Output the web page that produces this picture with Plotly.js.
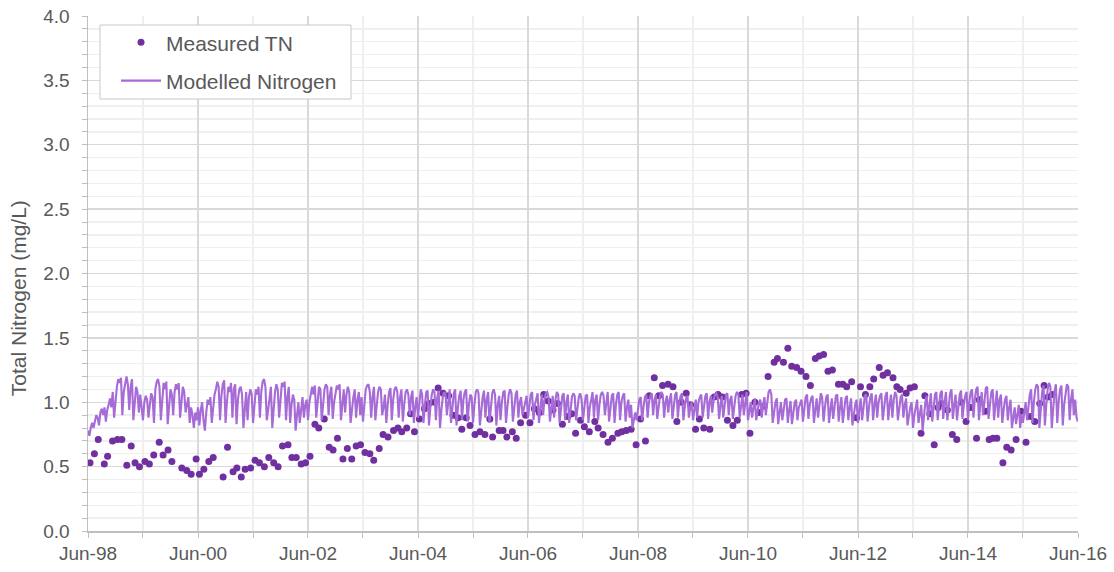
<!DOCTYPE html>
<html>
<head>
<meta charset="utf-8">
<script src="https://cdn.plot.ly/plotly-3.0.1.min.js"></script>
<style>
  html, body { margin: 0; padding: 0; background: #ffffff; }
  #chart { width: 1114px; height: 572px; }
</style>
</head>
<body>
<div id="chart"></div>
<script>
// ---- Measured TN: sample dates (decimal years) and values (mg/L) ----
const measuredYear = [
  1998.45,1998.53,1998.60,1998.71,1998.77,1998.86,1998.95,1999.03,1999.12,1999.20,
  1999.27,1999.35,1999.45,1999.53,1999.61,1999.71,1999.78,1999.87,1999.94,2000.12,
  2000.21,2000.29,2000.38,2000.44,2000.52,2000.61,2000.69,2000.87,2000.95,2001.05,
  2001.12,2001.20,2001.27,2001.37,2001.45,2001.53,2001.62,2001.70,2001.79,2001.87,
  2001.95,2002.05,2002.12,2002.20,2002.29,2002.37,2002.45,2002.54,2002.61,2002.71,
  2002.80,2002.87,2002.95,2003.05,2003.13,2003.21,2003.29,2003.37,2003.45,2003.54,
  2003.61,2003.71,2003.78,2003.87,2003.97,2004.05,2004.12,2004.21,2004.28,2004.35,
  2004.44,2004.53,2004.61,2004.71,2004.78,2004.87,2004.97,2005.05,2005.14,2005.21,
  2005.29,2005.36,2005.45,2005.54,2005.63,2005.72,2005.77,2005.89,2005.96,2006.03,
  2006.13,2006.20,2006.28,2006.37,2006.45,2006.53,2006.62,2006.70,2006.78,2006.87,
  2006.95,2007.04,2007.14,2007.21,2007.28,2007.37,2007.44,2007.53,2007.63,2007.69,
  2007.78,2007.87,2007.95,2008.05,2008.12,2008.20,2008.29,2008.38,2008.46,2008.55,
  2008.62,2008.71,2008.79,2008.86,2008.96,2009.05,2009.12,2009.20,2009.29,2009.37,
  2009.46,2009.53,2009.61,2009.72,2009.80,2009.87,2009.95,2010.04,2010.14,2010.22,
  2010.30,2010.38,2010.45,2010.54,2010.61,2010.71,2010.78,2010.89,2010.95,2011.06,
  2011.14,2011.21,2011.30,2011.38,2011.47,2011.55,2011.64,2011.71,2011.79,2011.87,
  2011.95,2012.06,2012.14,2012.21,2012.30,2012.39,2012.46,2012.55,2012.63,2012.70,
  2012.80,2012.87,2012.95,2013.05,2013.12,2013.18,2013.29,2013.36,2013.44,2013.56,
  2013.63,2013.72,2013.80,2013.87,2013.93,2014.04,2014.13,2014.21,2014.29,2014.38,
  2014.46,2014.57,2014.62,2014.73,2014.80,2014.87,2014.94,2015.05,2015.12,2015.20,
  2015.29,2015.38,2015.47,2015.55,2015.63,2015.72,2015.80,2015.87,2015.95
];
const measuredTN = [
  0.53,0.60,0.71,0.52,0.58,0.70,0.71,0.71,0.51,0.66,
  0.53,0.50,0.54,0.52,0.59,0.69,0.59,0.63,0.54,0.49,
  0.47,0.44,0.56,0.44,0.48,0.54,0.57,0.42,0.65,0.46,
  0.49,0.42,0.48,0.49,0.55,0.53,0.50,0.57,0.53,0.50,
  0.66,0.67,0.57,0.57,0.52,0.53,0.58,0.83,0.80,0.87,
  0.65,0.63,0.72,0.56,0.64,0.56,0.66,0.67,0.61,0.60,
  0.55,0.64,0.75,0.73,0.78,0.80,0.77,0.80,0.91,0.77,
  0.87,0.95,0.99,1.00,1.11,1.07,1.05,0.90,0.88,0.79,
  0.88,0.82,0.75,0.77,0.75,0.87,0.73,0.78,0.78,0.73,
  0.77,0.72,0.84,0.90,0.84,0.95,0.92,1.06,1.01,0.94,
  0.99,0.83,0.89,0.91,0.76,0.86,0.81,0.77,0.85,0.80,
  0.75,0.69,0.72,0.76,0.77,0.78,0.79,0.67,0.87,0.70,
  1.05,1.19,1.05,1.13,1.14,1.12,0.85,1.00,1.07,0.98,
  0.79,0.87,0.80,0.79,1.04,1.06,1.04,0.86,0.82,0.86,
  1.06,1.07,0.76,1.00,0.92,0.97,1.20,1.31,1.34,1.31,
  1.42,1.28,1.27,1.24,1.20,1.13,1.34,1.36,1.37,1.24,
  1.25,1.14,1.14,1.12,1.16,0.88,1.12,1.06,1.12,1.18,
  1.27,1.21,1.23,1.19,1.12,1.10,1.07,1.11,1.12,0.76,
  1.05,0.91,0.67,0.96,0.99,0.94,0.75,0.71,1.00,0.85,
  0.96,0.72,1.02,0.93,0.71,0.72,0.72,0.53,0.65,0.63,
  0.71,0.93,0.69,0.89,0.85,0.99,1.13,1.04,1.06
];

// ---- Modelled Nitrogen: series start, sampling step (years) and values (mg/L) ----
const modelStartYear = 1998.414;
const modelStepYears = 0.025;
const modelledN = [
  // Jun-98 .. Jun-99
  0.78,0.74,0.80,0.84,0.80, 0.86,0.90,0.88,0.82,0.92, 0.95,0.90,0.96,0.85,0.94,0.98, 1.03,0.96,1.08,0.88,
  1.04,1.12,1.18,1.15,1.19, 0.90,1.08,1.16,1.20,1.14, 0.94,1.12,1.18,0.86,1.02,1.12,1.08, 0.92,1.06,0.98,
  // Jun-99 .. Jun-00
  0.86,1.00,1.05,1.02,0.88,0.98,1.07,1.04, 0.84,1.10,1.16,1.18,1.12, 0.86,1.02,1.15,1.10,1.16, 0.83,0.98,
  1.10,1.06, 0.90,1.08,1.14,1.10,1.15, 0.88,1.04,1.12,1.08, 0.92,0.98,1.04,0.84,0.96,0.90, 0.80,0.92,0.86,
  // Jun-00 .. Jun-01
  0.96,0.82,0.94,1.00,0.86, 0.78,0.92,1.02,0.98,1.04, 0.84,0.96,1.06,1.10,1.16,1.12, 0.86,1.05,1.14,1.17,
  0.84,1.00,1.12,1.08,1.15, 0.88,1.10,1.14, 0.83,1.02,1.10,1.12,1.06, 0.80,0.98,1.08, 0.86,1.04,1.10,1.06,
  // Jun-01 .. Jun-02
  0.84,0.98,1.10,1.06,1.12, 0.88,1.08,1.16,1.18,1.12, 0.86,0.94,1.06,1.12, 0.80,0.96,1.08,1.14,1.10, 0.88,
  1.06,1.15,1.12,1.16, 0.86,1.04,1.12, 0.84,0.98,1.06,1.02, 0.78,0.90,1.00, 0.84,0.96,1.04,0.88,0.98,1.02,
  // Jun-02 .. Jun-03
  0.86,1.00,1.08,1.12,1.06,1.13, 0.88,1.04,1.12,1.10, 0.86,0.98,1.10,1.14,1.12, 0.90,1.06,1.12, 0.87,1.00,
  1.08,1.13,1.10,1.14, 0.86,1.02,1.10, 0.92,1.06,1.12,1.08, 0.84,0.96,1.04,1.10, 0.88,1.02,1.08,0.90,1.04,
  // Jun-03 .. Jun-04
  0.85,1.00,1.10,1.13,1.14,1.08, 0.88,1.04,1.12, 0.86,0.98,1.08,1.12,1.10, 0.90,0.96,1.06, 0.84,0.98,1.08,
  1.11, 0.86,1.02,1.10,1.12,1.08, 0.88,1.04,1.10, 0.85,0.98,1.08,1.10,1.06, 0.90,1.04,1.09, 0.84,0.96,1.04,
  // Jun-04 .. Jun-05
  0.88,1.02,1.10,1.06, 0.84,0.98,1.08,1.09, 0.82,0.96,1.06,1.10,1.08, 0.86,1.04,1.09, 0.80,0.94,1.04,1.08,
  1.06, 0.90,1.02,1.10, 0.84,0.98,1.07,1.10, 0.82,0.96,1.05,1.09, 0.86,1.02,1.08,1.10, 0.85,0.98,1.06,1.04,
  // Jun-05 .. Jun-06
  0.84,0.98,1.08,1.10,1.07, 0.82,0.94,1.04,1.09, 0.88,1.02,1.08, 0.84,0.96,1.07,1.10,1.06, 0.82,0.98,1.05,
  0.86,1.00,1.08,1.09, 0.84,0.96,1.06,1.10,1.07, 0.85,0.98,1.06,1.09, 0.88,1.00,1.04, 0.90,0.96,1.02,1.05,
  // Jun-06 .. Jun-07
  0.88,1.00,1.06,1.08, 0.86,0.98,1.04,1.07, 0.84,0.96,1.06, 0.90,1.02,1.07,1.08,1.04, 0.85,0.96,1.05, 0.88,
  1.02,1.08,1.06, 0.84,0.98,1.05,1.07, 0.86,1.00,1.06, 0.84,0.96,1.04,1.07,1.05, 0.86,0.98,1.04,1.07,1.02,
  // Jun-07 .. Jun-08
  0.86,0.98,1.05,1.06, 0.84,0.96,1.04,1.08, 0.88,1.02,1.06, 0.86,0.98,1.06,1.08,1.05, 0.90,1.02,1.08, 0.85,
  0.96,1.05,1.07, 0.84,0.98,1.06,1.08, 0.86,1.00,1.05,1.07, 0.85,0.96,1.02, 0.88,0.98, 0.80,0.88,0.92,0.86,
  // Jun-08 .. Jun-09
  0.96,1.02,1.04, 0.86,0.96,1.04,1.06, 0.88,1.00,1.05,1.07, 0.90,1.02,1.06, 0.87,0.98,1.05,1.08,1.06, 0.88,
  1.00,1.05, 0.92,1.02,1.07, 0.87,0.98,1.06,1.08, 0.88,1.00,1.05,1.07, 0.86,0.96,1.03,1.05, 0.88,0.96,1.00,
  // Jun-09 .. Jun-10
  0.86,0.96,1.02, 0.88,1.00,1.04,1.06, 0.88,0.98,1.05,1.07, 0.87,1.00,1.05, 0.92,1.02,1.06,1.07,1.04, 0.87,
  0.98,1.05, 0.88,1.00,1.06,1.07, 0.90,1.02,1.05, 0.87,0.98,1.05,1.08,1.06, 0.88,1.00,1.06, 0.90,1.02,1.08,
  // Jun-10 .. Jun-11
  0.86,0.94,1.00, 0.88,0.96,1.03, 0.86,0.94,1.00,1.02, 0.88,0.98,1.04, 0.90,1.02,1.08,1.10,1.06, 0.84,0.94,
  1.00,1.03, 0.83,0.92,1.00, 0.86,0.96,1.02,1.03, 0.84,0.94,1.01, 0.83,0.92,1.00,1.02, 0.86,0.96,1.00,1.02,
  // Jun-11 .. Jun-12
  0.85,0.96,1.04,1.06, 0.87,0.98,1.03,1.05, 0.84,0.94,1.03, 0.88,1.00,1.07,1.04, 0.85,0.96,1.04,1.06, 0.84,
  0.94,1.03, 0.87,0.98,1.05,1.06, 0.85,0.96,1.04, 0.84,0.94,1.03,1.05, 0.86,0.96,1.03, 0.82,0.92,0.98,1.02,
  // Jun-12 .. Jun-13
  0.84,0.94,1.03, 0.86,0.98,1.05,1.06, 0.85,0.96,1.04,1.07, 0.86,0.98,1.06, 0.88,1.00,1.05,1.07, 0.86,0.96,
  1.05,1.08, 0.86,0.98,1.06, 0.88,1.02,1.08,1.05, 0.86,0.96,1.04,1.06, 0.88,0.98,1.03, 0.82,0.90,0.96,1.00,
  // Jun-13 .. Jun-14
  0.80,0.90,0.98,1.02, 0.84,0.92,0.98, 0.78,0.90,1.00,1.05, 0.86,0.98,1.07, 0.85,0.96,1.06,1.08, 0.86,0.98,
  1.07,1.09, 0.87,1.00,1.08, 0.86,0.98,1.07,1.10, 0.87,0.98,1.06, 0.86,0.98,1.06,1.09, 0.87,0.98,1.05,1.08,
  // Jun-14 .. Jun-15
  0.86,1.00,1.08,1.10, 0.88,1.02,1.10,1.12, 0.86,0.98,1.08, 0.90,1.04,1.11,1.12, 0.87,0.98,1.08,1.10, 0.86,
  0.98,1.09, 0.88,1.02,1.06, 0.84,0.94,1.02,1.05, 0.86,0.96,1.02, 0.80,0.90,0.96, 0.83,0.92,0.98, 0.80,0.90,
  // Jun-15 .. Jun-16
  0.84,0.94,1.00, 0.86,0.98,1.06,1.10, 0.84,1.00,1.10,1.14,1.12, 0.80,0.96,1.08,1.13, 0.82,0.98,1.10,1.15,
  1.12, 0.80,0.96,1.08,1.14, 0.84,1.00,1.10,1.13, 0.82,0.98,1.08,1.14,1.12, 0.86,1.02,1.10, 0.90,1.02,0.88,
  0.85
];

// ---- Text ----
const seriesNames = ["Measured TN", "Modelled Nitrogen"];
const yAxisTitle = "Total Nitrogen (mg/L)";
const xRange = ["1998-06-01", "2016-06-01"];
const yRange = [0, 4];

// decimal year -> ISO date string
function decYearToDate(d) {
  const y = Math.floor(d);
  const start = Date.UTC(y, 0, 1), end = Date.UTC(y + 1, 0, 1);
  const t = new Date(start + (d - y) * (end - start));
  return t.toISOString().slice(0, 19);
}

const measuredDates = measuredYear.map(decYearToDate);
const modelDates = modelledN.map((_, i) => decYearToDate(modelStartYear + i * modelStepYears));

const FONT = '"Liberation Sans", Arial, sans-serif';
const TXT = '#595959';

const traces = [
  {
    x: measuredDates, y: measuredTN, name: seriesNames[0], legendgroup: 'a',
    type: 'scatter', mode: 'markers',
    marker: { color: '#7030a0', size: 7 }
  },
  {
    x: modelDates, y: modelledN, name: seriesNames[1], legendgroup: 'b',
    type: 'scatter', mode: 'lines',
    line: { color: '#a66bd6', width: 2.1 }
  }
];

const layout = {
  width: 1114, height: 572,
  margin: { l: 88, r: 36, t: 16, b: 41 },
  paper_bgcolor: '#ffffff', plot_bgcolor: '#ffffff',
  font: { family: FONT, size: 19, color: TXT },
  showlegend: true,
  legend: {
    x: 0.0283, y: 0.988, xanchor: 'left', yanchor: 'top',
    bgcolor: 'rgba(0,0,0,0)', borderwidth: 0,
    font: { family: FONT, size: 21, color: TXT },
    tracegroupgap: 8, itemwidth: 40
  },
  shapes: [{
    type: 'rect', xref: 'paper', yref: 'paper', layer: 'above',
    x0: 0.0121, x1: 0.2657, y0: 0.8388, y1: 0.9825,
    fillcolor: '#ffffff', line: { color: '#c8c8c8', width: 1 }
  }],
  annotations: [{
    text: yAxisTitle, xref: 'paper', yref: 'paper',
    x: -0.0707, y: 0.452, xanchor: 'center', yanchor: 'middle',
    textangle: -90, showarrow: false,
    font: { family: FONT, size: 21, color: TXT }
  }],
  xaxis: {
    type: 'date', range: xRange,
    tick0: '1998-06-01', dtick: 'M24', tickformat: '%b-%y',
    showgrid: true, gridcolor: '#d9d9d9', gridwidth: 1.5,
    ticks: 'outside', ticklen: 5, tickcolor: '#bfbfbf',
    showline: true, linecolor: '#bfbfbf', linewidth: 1.5,
    zeroline: false,
    tickfont: { family: FONT, size: 19, color: TXT },
    minor: { tick0: '1998-06-01', dtick: 'M12', showgrid: true, gridcolor: '#efefef', gridwidth: 1.5,
             ticks: 'outside', ticklen: 5, tickcolor: '#bfbfbf' }
  },
  yaxis: {
    range: yRange, dtick: 0.5, tickformat: '.1f',
    showgrid: true, gridcolor: '#d9d9d9', gridwidth: 1.3,
    ticks: 'outside', ticklen: 5, tickcolor: '#bfbfbf',
    ticklabelstandoff: 8,
    showline: true, linecolor: '#bfbfbf', linewidth: 1.5,
    zeroline: false,
    tickfont: { family: FONT, size: 19, color: TXT },
    minor: { dtick: 0.1, showgrid: true, gridcolor: '#efefef', gridwidth: 1.3,
             ticks: 'outside', ticklen: 5, tickcolor: '#bfbfbf' }
  }
};

Plotly.newPlot('chart', traces, layout, { displayModeBar: false, staticPlot: true });
</script>
</body>
</html>
